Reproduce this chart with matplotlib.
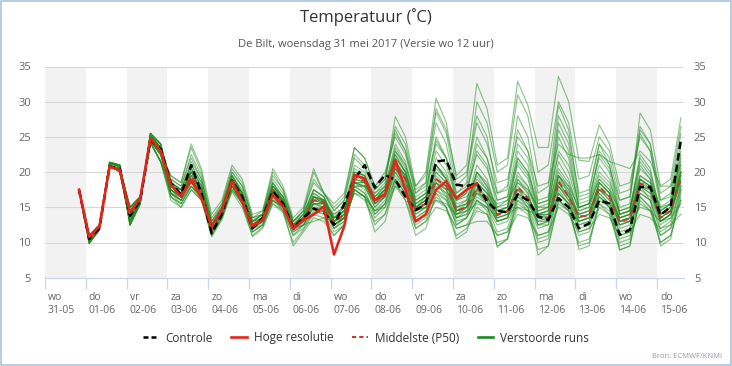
import matplotlib
matplotlib.use('Agg')
import matplotlib.pyplot as plt
import matplotlib.dates as mdates
import matplotlib.transforms as mtransforms
import pandas as pd
from matplotlib.lines import Line2D
from matplotlib.patches import Rectangle

plt.rcParams['font.family'] = ['Open Sans', 'DejaVu Sans']

# ---------------- data ----------------
times = pd.date_range('2017-05-31 20:00', periods=60, freq='6h')
day_names = ['wo', 'do', 'vr', 'za', 'zo', 'ma', 'di', 'wo', 'do', 'vr', 'za', 'zo', 'ma', 'di', 'wo', 'do']
day_dates = ['31-05', '01-06', '02-06', '03-06', '04-06', '05-06', '06-06', '07-06',
             '08-06', '09-06', '10-06', '11-06', '12-06', '13-06', '14-06', '15-06']
y_ticks = [5, 10, 15, 20, 25, 30, 35]

controle = [17.5,
            10.5, 12.0, 20.8, 20.5, 13.8, 16.0, 24.5, 23.3, 18.5, 16.8, 21.0, 17.0,
            11.3, 14.0, 18.8, 16.5, 12.0, 13.5, 17.3, 15.5, 12.0, 13.5, 14.8, 14.3,
            12.5, 15.5, 19.0, 21.0, 17.8, 19.6, 18.9, 16.5, 14.6, 15.5, 21.5, 21.7,
            18.2, 18.0, 18.4, 15.8, 14.5, 14.3, 16.8, 16.0, 13.7, 13.2, 16.3, 15.0,
            12.0, 12.7, 16.0, 15.5, 11.1, 11.8, 17.9, 17.9, 13.9, 15.1, 24.6]

hoge_resolutie = [17.5,
                  10.8, 12.3, 20.8, 20.3, 14.2, 16.3, 24.8, 23.0, 18.2, 16.5, 18.9, 16.3,
                  12.3, 14.6, 18.7, 15.8, 12.3, 13.2, 16.8, 15.1, 11.9, 13.2, 14.0, 15.1,
                  8.3, 12.3, 19.6, 19.1, 16.0, 16.8, 21.7, 17.5, 13.0, 14.0, 17.5, 18.7,
                  16.3, 17.5, 18.4]

middelste = [17.5,
             10.5, 12.1, 20.9, 20.5, 14.0, 16.0, 24.8, 23.0, 18.0, 17.0, 19.5, 17.0,
             12.0, 14.5, 18.8, 16.5, 12.5, 13.5, 17.5, 15.5, 12.3, 13.5, 16.0, 15.8,
             12.8, 14.0, 19.0, 18.8, 15.8, 17.0, 21.0, 19.0, 14.8, 15.5, 19.0, 18.0,
             14.5, 15.0, 17.8, 16.3, 13.9, 14.4, 17.9, 16.3, 13.7, 13.5, 18.7, 16.5,
             13.7, 13.8, 17.9, 16.5, 13.0, 13.4, 18.4, 17.8, 13.5, 14.5, 19.2]

run01 = [17.5, 10.3, 12.0, 21.2, 20.8, 13.5, 16.0, 25.2, 23.5,
         17.5, 16.5, 19.0, 16.5, 11.5, 14.0, 18.5, 16.0, 12.0, 13.0, 17.0, 15.0,
         12.0, 13.0, 15.5, 15.0, 12.5, 13.5, 18.5, 18.0, 15.0, 16.5, 20.5, 18.5,
         14.0, 15.0, 18.5, 17.0, 13.5, 14.5, 17.0, 15.5, 13.0, 13.5, 17.5, 15.5,
         13.0, 13.0, 18.0, 16.0, 13.0, 13.5, 17.5, 16.0, 12.5, 13.0, 18.0, 17.0,
         13.0, 14.0, 19.0]
run02 = [17.5, 10.8, 12.3, 20.7, 20.2, 14.5, 16.3, 24.5, 22.5,
         19.0, 18.0, 22.5, 19.5, 13.0, 15.0, 20.0, 18.0, 13.5, 14.5, 19.5, 17.5,
         13.0, 14.5, 18.5, 17.0, 14.5, 16.0, 22.0, 20.5, 17.5, 19.0, 26.0, 23.0,
         18.0, 19.5, 29.0, 26.0, 19.5, 21.0, 32.6, 29.0, 21.0, 22.0, 32.9, 29.5,
         23.5, 23.5, 33.6, 30.0, 21.7, 21.5, 26.7, 24.0, 18.0, 18.5, 25.0, 23.0,
         16.0, 16.5, 24.0]
run03 = [17.5, 9.9, 11.8, 21.4, 21.0, 12.5, 15.5, 25.5, 24.0,
         18.5, 17.5, 21.0, 18.5, 12.5, 14.5, 19.5, 17.0, 13.0, 14.0, 18.5, 16.5,
         12.5, 14.0, 17.5, 16.5, 13.5, 15.0, 21.0, 20.0, 17.0, 18.5, 27.9, 25.0,
         18.0, 20.0, 30.5, 27.0, 19.0, 20.0, 28.0, 25.0, 17.0, 17.5, 26.0, 23.0,
         16.0, 16.5, 28.0, 25.0, 17.0, 17.5, 24.0, 21.0, 15.0, 15.5, 28.4, 26.0,
         18.0, 19.0, 27.7]
run04 = [17.5, 10.6, 12.2, 20.9, 20.4, 15.0, 16.5, 24.2, 21.5,
         16.0, 15.0, 17.5, 16.0, 10.8, 13.2, 17.2, 15.0, 11.0, 12.2, 15.5, 14.2,
         10.0, 11.8, 14.0, 13.5, 11.0, 12.5, 17.5, 16.5, 12.5, 14.0, 19.0, 17.0,
         12.0, 13.0, 16.5, 15.0, 11.0, 12.0, 14.5, 14.0, 10.0, 10.5, 15.0, 14.0,
         9.0, 9.5, 16.0, 14.5, 10.0, 10.5, 15.0, 14.0, 9.5, 10.0, 16.0, 14.5,
         10.0, 11.0, 16.0]
run05 = [17.5, 11.0, 12.5, 21.0, 20.0, 13.0, 15.8, 25.0, 23.0,
         18.0, 17.0, 20.0, 17.5, 12.0, 14.5, 19.0, 16.5, 12.5, 13.5, 18.0, 16.0,
         12.5, 13.5, 16.5, 16.0, 13.0, 14.0, 19.5, 19.0, 16.0, 17.5, 22.5, 20.0,
         15.0, 16.5, 22.0, 20.0, 15.5, 16.0, 21.0, 19.0, 14.5, 15.0, 23.0, 21.0,
         14.0, 14.5, 25.0, 22.0, 15.0, 15.5, 21.0, 19.0, 14.0, 14.5, 22.0, 20.0,
         14.5, 15.5, 22.0]
run06 = [17.5, 10.3, 12.0, 21.2, 20.8, 13.5, 16.0, 25.2, 23.5,
         17.0, 15.5, 18.0, 16.5, 11.0, 13.5, 18.0, 15.5, 11.5, 12.5, 16.5, 14.5,
         11.0, 12.5, 15.0, 14.5, 12.0, 13.0, 18.0, 17.0, 14.0, 15.5, 20.0, 17.5,
         13.0, 14.0, 17.5, 16.0, 12.5, 13.5, 16.0, 15.0, 11.5, 12.0, 16.5, 15.0,
         8.2, 9.5, 15.5, 14.5, 9.5, 10.0, 15.5, 14.0, 9.0, 9.5, 16.5, 15.0,
         11.0, 12.0, 17.0]
run07 = [17.5, 10.8, 12.3, 20.7, 20.2, 14.5, 16.3, 24.5, 22.5,
         19.5, 18.5, 23.5, 20.0, 13.5, 15.5, 20.5, 18.5, 13.5, 14.0, 20.0, 17.5,
         13.0, 14.5, 20.0, 17.0, 15.0, 16.5, 23.5, 22.0, 18.0, 19.5, 26.5, 24.0,
         17.5, 18.5, 27.0, 24.0, 17.0, 18.0, 25.0, 22.0, 16.0, 16.5, 24.0, 22.0,
         15.5, 16.0, 26.0, 23.0, 15.0, 15.5, 23.0, 21.0, 14.0, 14.5, 21.0, 19.0,
         13.0, 14.0, 20.0]
run08 = [17.5, 9.9, 11.8, 21.4, 21.0, 12.5, 15.5, 25.5, 24.0,
         18.0, 17.0, 19.5, 17.0, 12.0, 14.5, 19.0, 16.5, 12.5, 13.5, 17.5, 15.5,
         12.5, 13.5, 16.0, 16.0, 13.0, 14.0, 19.0, 18.5, 15.5, 17.0, 21.5, 19.0,
         14.5, 15.5, 19.5, 18.0, 14.5, 15.0, 18.0, 16.5, 14.0, 14.5, 18.0, 16.5,
         13.5, 13.5, 19.0, 17.0, 13.5, 14.0, 18.0, 16.5, 13.0, 13.5, 18.5, 17.5,
         13.5, 14.5, 19.5]
run09 = [17.5, 10.6, 12.2, 20.9, 20.4, 15.0, 16.5, 24.2, 21.5,
         16.5, 15.5, 18.0, 16.0, 11.5, 14.0, 18.0, 16.0, 12.0, 13.0, 16.0, 15.0,
         12.0, 13.0, 14.0, 14.5, 12.5, 13.5, 17.0, 16.0, 13.0, 14.0, 18.0, 16.0,
         12.0, 13.0, 15.0, 14.5, 12.0, 12.5, 13.0, 13.0, 11.0, 11.5, 14.0, 13.5,
         11.0, 11.5, 15.0, 14.0, 11.5, 12.0, 14.0, 13.5, 11.0, 11.5, 14.0, 13.5,
         12.0, 12.5, 14.0]
run10 = [17.5, 11.0, 12.5, 21.0, 20.0, 13.0, 15.8, 25.0, 23.0,
         17.5, 16.5, 20.0, 17.5, 12.0, 14.0, 18.5, 16.5, 12.0, 13.0, 17.5, 16.0,
         12.0, 13.5, 17.0, 16.0, 13.5, 15.0, 20.0, 19.5, 16.0, 17.0, 23.0, 21.0,
         16.0, 17.0, 25.0, 22.0, 17.0, 18.5, 30.0, 27.0, 20.0, 21.0, 31.0, 28.0,
         20.0, 21.0, 30.0, 27.0, 19.0, 19.5, 25.0, 23.0, 17.0, 17.5, 26.5, 24.0,
         16.0, 17.0, 25.5]
run11 = [17.5, 10.3, 12.0, 21.2, 20.8, 13.5, 16.0, 25.2, 23.5,
         17.0, 16.0, 19.0, 17.5, 12.5, 15.0, 19.5, 17.0, 13.0, 13.5, 17.5, 16.0,
         12.0, 13.0, 16.5, 15.5, 12.0, 13.5, 18.5, 18.0, 16.5, 17.5, 21.0, 19.5,
         15.5, 16.5, 20.0, 18.5, 15.0, 15.5, 19.5, 17.5, 14.5, 15.0, 20.0, 18.0,
         14.0, 14.5, 21.5, 19.0, 14.5, 15.0, 19.0, 17.5, 13.5, 14.0, 19.5, 18.5,
         14.0, 15.0, 21.0]
run12 = [17.5, 10.8, 12.3, 20.7, 20.2, 14.5, 16.3, 24.5, 22.5,
         16.5, 15.0, 17.5, 16.0, 11.5, 13.5, 18.0, 15.5, 10.8, 12.0, 15.5, 14.5,
         9.5, 11.5, 13.5, 13.0, 11.0, 12.5, 17.5, 16.5, 11.5, 13.0, 18.5, 16.0,
         11.0, 12.0, 17.0, 15.0, 10.5, 11.5, 16.0, 14.5, 9.5, 10.5, 16.0, 14.5,
         10.5, 11.0, 17.0, 15.5, 9.0, 9.5, 16.0, 15.0, 10.0, 10.5, 17.0, 16.0,
         9.5, 10.5, 17.5]
run13 = [17.5, 9.9, 11.8, 21.4, 21.0, 12.5, 15.5, 25.5, 24.0,
         18.5, 17.5, 21.0, 18.5, 12.5, 14.5, 19.0, 17.0, 13.0, 14.0, 18.5, 16.5,
         13.0, 14.0, 17.5, 16.5, 13.5, 14.5, 20.5, 19.5, 16.5, 18.0, 24.0, 21.5,
         16.0, 17.0, 23.0, 21.0, 16.0, 17.0, 24.0, 22.0, 17.0, 18.0, 28.0, 25.0,
         17.0, 18.0, 29.5, 26.0, 16.5, 17.0, 24.0, 22.0, 16.0, 16.5, 25.5, 23.0,
         15.0, 16.0, 23.0]
run14 = [17.5, 10.6, 12.2, 20.9, 20.4, 15.0, 16.5, 24.2, 21.5,
         18.5, 17.5, 19.0, 17.5, 12.5, 14.5, 18.5, 16.5, 12.5, 13.5, 17.0, 16.0,
         12.5, 13.5, 15.5, 15.5, 14.0, 15.0, 18.0, 18.0, 17.0, 18.0, 21.0, 19.5,
         16.0, 17.0, 19.0, 18.0, 16.0, 16.5, 18.5, 17.0, 15.5, 16.0, 18.5, 17.5,
         15.0, 15.0, 20.0, 18.0, 15.0, 15.5, 19.0, 17.5, 14.5, 15.0, 19.5, 18.5,
         15.0, 15.5, 20.0]
run15 = [17.5, 11.0, 12.5, 21.0, 20.0, 13.0, 15.8, 25.0, 23.0,
         17.0, 16.0, 18.5, 17.0, 12.0, 14.0, 17.5, 16.0, 12.5, 13.0, 16.0, 15.0,
         12.0, 12.5, 13.0, 13.5, 13.0, 13.5, 17.0, 16.5, 14.5, 15.0, 18.0, 17.0,
         14.5, 15.0, 16.0, 15.5, 14.0, 14.5, 15.5, 15.0, 13.5, 14.0, 15.0, 14.5,
         14.0, 14.0, 16.0, 15.0, 13.0, 13.5, 16.5, 15.5, 13.0, 13.0, 15.0, 14.5,
         13.0, 13.5, 15.5]
run16 = [17.5, 10.3, 12.0, 21.2, 20.8, 13.5, 16.0, 25.2, 23.5,
         19.0, 18.0, 22.0, 19.0, 13.0, 15.5, 20.0, 18.0, 13.5, 14.0, 19.0, 17.0,
         13.0, 14.5, 19.0, 17.0, 14.5, 16.0, 22.5, 21.0, 17.5, 19.0, 25.5, 23.0,
         17.0, 18.5, 28.5, 25.5, 18.0, 19.5, 27.0, 24.0, 18.5, 19.0, 25.0, 23.0,
         18.0, 18.5, 24.0, 22.5, 22.0, 22.0, 22.5, 21.5, 21.0, 20.5, 23.0, 21.5,
         18.0, 18.0, 21.0]
run17 = [17.5, 10.8, 12.3, 20.7, 20.2, 14.5, 16.3, 24.5, 22.5,
         17.5, 16.5, 19.0, 17.0, 11.5, 14.0, 18.0, 16.0, 12.0, 13.0, 17.5, 15.5,
         12.0, 13.0, 15.0, 15.0, 12.5, 13.5, 18.5, 18.0, 15.5, 16.5, 20.0, 18.0,
         14.5, 15.0, 18.0, 17.0, 13.5, 14.0, 17.0, 16.0, 13.0, 13.5, 17.0, 16.0,
         12.5, 13.0, 18.0, 16.0, 12.5, 13.0, 17.0, 15.5, 12.0, 12.5, 17.5, 16.5,
         12.5, 13.5, 18.0]
run18 = [17.5, 9.9, 11.8, 21.4, 21.0, 12.5, 15.5, 25.5, 24.0,
         18.0, 17.0, 20.5, 18.0, 12.5, 14.5, 19.0, 17.0, 12.5, 13.5, 18.0, 16.0,
         12.5, 13.5, 16.5, 16.0, 13.0, 14.5, 19.5, 19.0, 16.0, 17.0, 22.0, 20.0,
         15.0, 16.0, 21.0, 19.0, 14.5, 15.0, 20.0, 18.0, 14.0, 14.5, 21.5, 19.5,
         14.5, 15.0, 23.0, 21.0, 15.5, 16.0, 22.5, 20.5, 16.0, 16.5, 26.0, 24.0,
         17.0, 18.0, 26.5]
run19 = [17.5, 10.6, 12.2, 20.9, 20.4, 15.0, 16.5, 24.2, 21.5,
         17.0, 16.0, 18.5, 16.5, 12.0, 14.0, 18.0, 16.0, 11.5, 12.5, 16.5, 15.0,
         11.5, 12.5, 15.0, 14.5, 12.0, 13.0, 18.0, 17.0, 14.5, 16.0, 19.5, 17.5,
         13.5, 14.5, 17.5, 16.5, 13.0, 13.5, 16.0, 15.0, 12.5, 13.0, 16.0, 15.0,
         12.0, 12.5, 17.0, 15.5, 12.0, 12.5, 16.5, 15.0, 11.5, 12.0, 17.0, 16.0,
         12.0, 13.0, 17.5]
run20 = [17.5, 11.0, 12.5, 21.0, 20.0, 13.0, 15.8, 25.0, 23.0,
         18.5, 17.5, 21.5, 19.0, 13.0, 15.0, 19.5, 17.5, 13.0, 14.0, 18.0, 16.5,
         12.5, 14.0, 17.0, 16.0, 14.0, 15.0, 20.0, 19.5, 16.5, 18.0, 23.5, 21.0,
         16.5, 17.5, 24.0, 22.0, 16.5, 17.5, 22.5, 20.5, 16.0, 16.5, 22.0, 20.0,
         15.5, 16.0, 22.5, 20.0, 15.0, 15.5, 20.0, 18.5, 14.5, 15.0, 21.5, 19.5,
         14.5, 15.5, 21.5]
run21 = [17.5, 10.3, 12.0, 21.2, 20.8, 13.5, 16.0, 25.2, 23.5,
         16.5, 15.5, 18.0, 16.5, 11.0, 13.5, 17.5, 15.5, 11.5, 12.5, 16.0, 14.5,
         11.0, 12.0, 14.5, 14.0, 11.5, 12.5, 17.5, 16.5, 13.5, 15.0, 19.0, 17.0,
         12.5, 13.5, 16.0, 15.0, 12.0, 12.5, 15.0, 14.0, 11.0, 11.5, 15.5, 14.5,
         10.0, 10.5, 16.0, 14.5, 11.0, 11.5, 15.5, 14.5, 10.5, 11.0, 15.5, 14.5,
         11.0, 12.0, 16.0]
run22 = [17.5, 10.8, 12.3, 20.7, 20.2, 14.5, 16.3, 24.5, 22.5,
         18.0, 17.5, 20.5, 18.0, 12.5, 15.0, 19.5, 17.0, 13.0, 13.5, 18.0, 16.5,
         12.5, 13.5, 16.5, 16.0, 13.5, 14.5, 19.5, 19.0, 16.0, 17.5, 22.0, 20.0,
         15.5, 16.5, 21.0, 19.5, 15.0, 16.0, 20.0, 18.0, 15.0, 15.5, 19.5, 18.0,
         14.5, 15.0, 20.5, 18.5, 14.5, 15.0, 19.5, 18.0, 14.0, 14.5, 20.5, 19.0,
         14.5, 15.5, 20.5]
run23 = [17.5, 9.9, 11.8, 21.4, 21.0, 12.5, 15.5, 25.5, 24.0,
         17.5, 16.5, 18.5, 17.0, 12.0, 14.0, 18.5, 16.0, 12.0, 13.0, 17.0, 15.0,
         11.5, 12.5, 15.5, 15.0, 12.5, 13.5, 18.5, 17.5, 14.0, 15.5, 20.5, 18.0,
         13.5, 14.5, 18.5, 16.5, 12.5, 13.5, 17.5, 15.5, 9.3, 10.5, 17.0, 15.0,
         11.0, 11.5, 17.5, 15.5, 11.5, 12.0, 17.0, 15.5, 11.0, 11.5, 18.0, 16.0,
         11.5, 12.5, 18.0]
run24 = [17.5, 10.6, 12.2, 20.9, 20.4, 15.0, 16.5, 24.2, 21.5,
         18.0, 17.0, 20.0, 17.5, 12.5, 14.5, 19.0, 16.5, 12.5, 13.5, 17.5, 16.0,
         12.0, 13.0, 16.5, 15.5, 13.0, 14.0, 19.5, 18.5, 15.5, 17.0, 21.5, 19.5,
         15.0, 16.0, 21.0, 19.0, 14.0, 15.0, 20.0, 18.5, 14.5, 15.0, 22.0, 20.0,
         15.0, 15.5, 27.0, 24.0, 16.0, 16.5, 22.0, 20.0, 14.0, 14.5, 22.5, 20.5,
         14.0, 15.0, 22.5]
run25 = [17.5, 11.0, 12.5, 21.0, 20.0, 13.0, 15.8, 25.0, 23.0,
         19.5, 18.5, 24.0, 20.5, 14.0, 16.0, 21.0, 19.0, 14.0, 14.5, 20.5, 18.0,
         13.5, 15.0, 20.5, 17.0, 15.5, 17.0, 23.5, 22.0, 18.0, 20.0, 25.0, 22.5,
         17.0, 18.0, 24.5, 22.0, 16.0, 17.0, 23.0, 21.0, 15.0, 16.0, 21.0, 19.0,
         14.0, 14.5, 19.5, 18.0, 13.5, 14.0, 18.5, 17.0, 13.0, 13.5, 19.0, 17.5,
         13.0, 14.0, 20.0]
run26 = [17.5, 10.3, 12.0, 21.2, 20.8, 13.5, 16.0, 25.2, 23.5,
         17.0, 16.0, 18.0, 16.5, 11.5, 13.5, 17.5, 15.5, 12.0, 12.5, 16.0, 15.0,
         12.0, 12.5, 14.0, 14.5, 12.5, 13.5, 17.5, 16.5, 14.5, 15.5, 19.0, 17.5,
         14.0, 15.0, 17.0, 16.0, 13.5, 14.0, 16.5, 15.5, 13.0, 13.5, 16.5, 15.5,
         12.5, 13.0, 17.0, 15.5, 12.5, 13.0, 16.5, 15.0, 8.9, 9.5, 16.5, 15.0,
         10.0, 11.0, 16.5]
run27 = [17.5, 10.8, 12.3, 20.7, 20.2, 14.5, 16.3, 24.5, 22.5,
         17.5, 16.0, 20.5, 18.0, 12.0, 14.5, 19.5, 17.0, 12.5, 13.5, 18.5, 16.0,
         12.5, 14.0, 17.5, 16.5, 13.0, 14.5, 20.0, 19.5, 16.0, 17.5, 23.0, 20.5,
         15.5, 16.5, 20.5, 19.0, 15.0, 15.5, 18.5, 17.0, 14.5, 15.0, 19.0, 17.5,
         14.0, 14.0, 19.5, 17.5, 14.0, 14.5, 18.5, 17.0, 13.5, 14.0, 19.0, 18.0,
         14.0, 15.0, 20.0]
run28 = [17.5, 9.9, 11.8, 21.4, 21.0, 12.5, 15.5, 25.5, 24.0,
         18.5, 17.0, 19.0, 17.0, 12.5, 14.5, 18.0, 16.5, 12.5, 13.5, 17.0, 15.5,
         12.0, 13.0, 16.0, 15.5, 12.5, 13.5, 18.5, 18.5, 15.5, 16.5, 21.0, 19.0,
         14.5, 15.5, 19.0, 17.5, 14.0, 14.5, 17.5, 16.0, 13.5, 14.0, 17.5, 16.0,
         13.5, 13.0, 18.5, 16.5, 13.0, 13.5, 17.5, 16.0, 12.5, 13.0, 18.0, 17.0,
         13.0, 14.0, 18.5]
run29 = [17.5, 10.6, 12.2, 20.9, 20.4, 15.0, 16.5, 24.2, 21.5,
         17.0, 16.5, 19.5, 17.5, 12.5, 14.5, 19.0, 16.5, 13.0, 14.0, 17.0, 16.0,
         12.5, 13.5, 16.0, 15.5, 13.5, 14.5, 19.5, 19.0, 16.0, 17.5, 22.5, 20.0,
         15.0, 16.0, 20.0, 18.5, 14.0, 15.0, 18.5, 17.0, 13.0, 13.5, 19.0, 17.0,
         12.5, 12.5, 19.5, 17.0, 13.0, 13.5, 18.5, 17.0, 12.5, 13.0, 19.0, 18.0,
         13.0, 14.0, 19.5]
run30 = [17.5, 11.0, 12.5, 21.0, 20.0, 13.0, 15.8, 25.0, 23.0,
         18.0, 17.5, 18.5, 17.0, 12.0, 14.0, 18.5, 16.5, 12.0, 13.5, 18.0, 16.0,
         12.5, 13.5, 15.5, 15.5, 12.5, 13.5, 18.0, 18.0, 15.0, 16.5, 20.5, 18.5,
         14.5, 15.5, 18.5, 17.5, 14.5, 15.0, 17.5, 16.5, 14.0, 14.5, 17.5, 16.5,
         13.5, 14.0, 18.5, 16.5, 14.0, 14.5, 17.5, 16.5, 13.5, 14.0, 18.0, 17.5,
         14.0, 14.5, 19.0]
run31 = [17.5, 10.3, 12.0, 21.2, 20.8, 13.5, 16.0, 25.2, 23.5,
         17.5, 16.5, 20.0, 17.5, 11.5, 14.0, 19.0, 16.5, 12.0, 13.0, 17.5, 15.5,
         12.0, 13.5, 16.5, 16.0, 13.0, 14.0, 19.0, 18.5, 16.0, 17.0, 21.5, 19.5,
         15.0, 16.0, 21.0, 19.0, 14.5, 15.5, 19.0, 17.5, 13.5, 14.0, 18.5, 17.0,
         13.0, 13.5, 19.5, 17.5, 13.5, 14.0, 18.5, 17.0, 13.0, 13.5, 19.0, 18.0,
         13.5, 14.5, 20.0]
run32 = [17.5, 10.8, 12.3, 20.7, 20.2, 14.5, 16.3, 24.5, 22.5,
         18.5, 17.5, 19.5, 17.5, 12.5, 15.0, 19.0, 17.0, 12.5, 13.5, 17.0, 16.0,
         12.5, 13.5, 15.5, 15.5, 13.5, 14.5, 18.5, 18.5, 16.0, 17.5, 20.5, 19.0,
         15.0, 16.0, 18.5, 17.5, 14.5, 15.0, 17.0, 16.5, 14.0, 14.5, 17.0, 16.0,
         14.0, 13.5, 18.0, 16.5, 14.0, 14.5, 17.5, 16.5, 13.5, 14.0, 18.0, 17.5,
         13.5, 14.5, 18.5]

runs = [run01, run02, run03, run04, run05, run06, run07, run08, run09, run10,
        run11, run12, run13, run14, run15, run16, run17, run18, run19, run20,
        run21, run22, run23, run24, run25, run26, run27, run28, run29, run30,
        run31, run32]
for r in runs + [controle, middelste]:
    assert len(r) == 60, len(r)

# ---------------- figure ----------------
W, H = 732, 366
fig = plt.figure(figsize=(W / 100, H / 100), dpi=100)
fig.patch.set_facecolor('white')
ax = fig.add_axes([45 / W, 1 - 277.7 / H, (684 - 45) / W, (277.7 - 66.5) / H])

day_ticks = pd.date_range('2017-05-31', periods=16, freq='D')
x0 = mdates.date2num(pd.Timestamp('2017-05-31 00:00'))
x1 = mdates.date2num(pd.Timestamp('2017-06-15 15:50'))

# alternating grey day bands
for k, d in enumerate(day_ticks):
    if k % 2 == 0:
        ax.axvspan(d, d + pd.Timedelta(days=1), color='#f2f2f2', lw=0, zorder=0)

green = '#1f8c1f'
for r in runs:
    ax.plot(times, r, color=green, lw=0.85, alpha=0.5, zorder=2)
ax.plot(times, middelste, color='#b5432e', lw=1.5, dashes=(3, 2), zorder=3)
ax.plot(times, controle, color='black', lw=1.8, dashes=(3, 1.6), zorder=4)
ax.plot(times[:len(hoge_resolutie)], hoge_resolutie, color='#e3261b', lw=1.9, zorder=5)

ax.set_xlim(x0, x1)
ax.set_ylim(5, 35)
ax.set_yticks(y_ticks)
ax.yaxis.grid(True, color='#d8d8d8', lw=0.8)
ax.set_axisbelow(True)
ax.set_xticks(day_ticks)
ax.set_xticklabels([f'{n}\n{d}' for n, d in zip(day_names, day_dates)],
                   ha='left', fontsize=7.5, color='#666666', linespacing=1.25)
ax.tick_params(axis='x', length=8, color='#ccd6eb', width=0.9, pad=2)
ax.tick_params(axis='y', length=0, labelsize=8, labelcolor='#666666',
               labelright=True, pad=10)
for t in ax.yaxis.get_major_ticks():
    t.label2.set_horizontalalignment('left')
for side in ['top', 'left', 'right']:
    ax.spines[side].set_visible(False)
ax.spines['bottom'].set_color('#ccd6eb')
ax.spines['bottom'].set_linewidth(0.9)
ax.set_facecolor('white')

offset = mtransforms.ScaledTranslation(3 / 100, 0, fig.dpi_scale_trans)
for lab in ax.get_xticklabels():
    lab.set_transform(lab.get_transform() + offset)
offset_r = mtransforms.ScaledTranslation(-4 / 100, 0, fig.dpi_scale_trans)
for t in ax.yaxis.get_major_ticks():
    t.label2.set_transform(t.label2.get_transform() + offset_r)

# titles
fig.text(0.5, 1 - 17 / H, 'Temperatuur (˚C)', ha='center', va='center',
         fontsize=12, color='#333333')
fig.text(0.5, 1 - 44 / H, 'De Bilt, woensdag 31 mei 2017 (Versie wo 12 uur)',
         ha='center', va='center', fontsize=8, color='#555555')

# legend
handles = [
    Line2D([], [], color='black', lw=1.8, dashes=(2, 1.2)),
    Line2D([], [], color='#e3261b', lw=1.9),
    Line2D([], [], color='#b5432e', lw=1.5, dashes=(2, 1.5)),
    Line2D([], [], color='#1f8a1f', lw=1.9),
]
labels = ['Controle', 'Hoge resolutie', 'Middelste (P50)', 'Verstoorde runs']
fig.legend(handles, labels, loc='center', bbox_to_anchor=(0.5, 1 - 338 / H),
           ncol=4, frameon=False, fontsize=8.5, handlelength=1.3,
           columnspacing=1.6, handletextpad=0.6, labelcolor='#333333')

fig.text(1 - 10 / W, 1 - 356 / H, 'Bron: ECMWF/KNMI', ha='right', va='center',
         fontsize=5.5, color='#999999')

fig.add_artist(Rectangle((0.001, 0.002), 0.997, 0.995, transform=fig.transFigure,
                         fill=False, edgecolor='#a9c3dc', lw=1.2))

fig.savefig('out.png', dpi=100)
